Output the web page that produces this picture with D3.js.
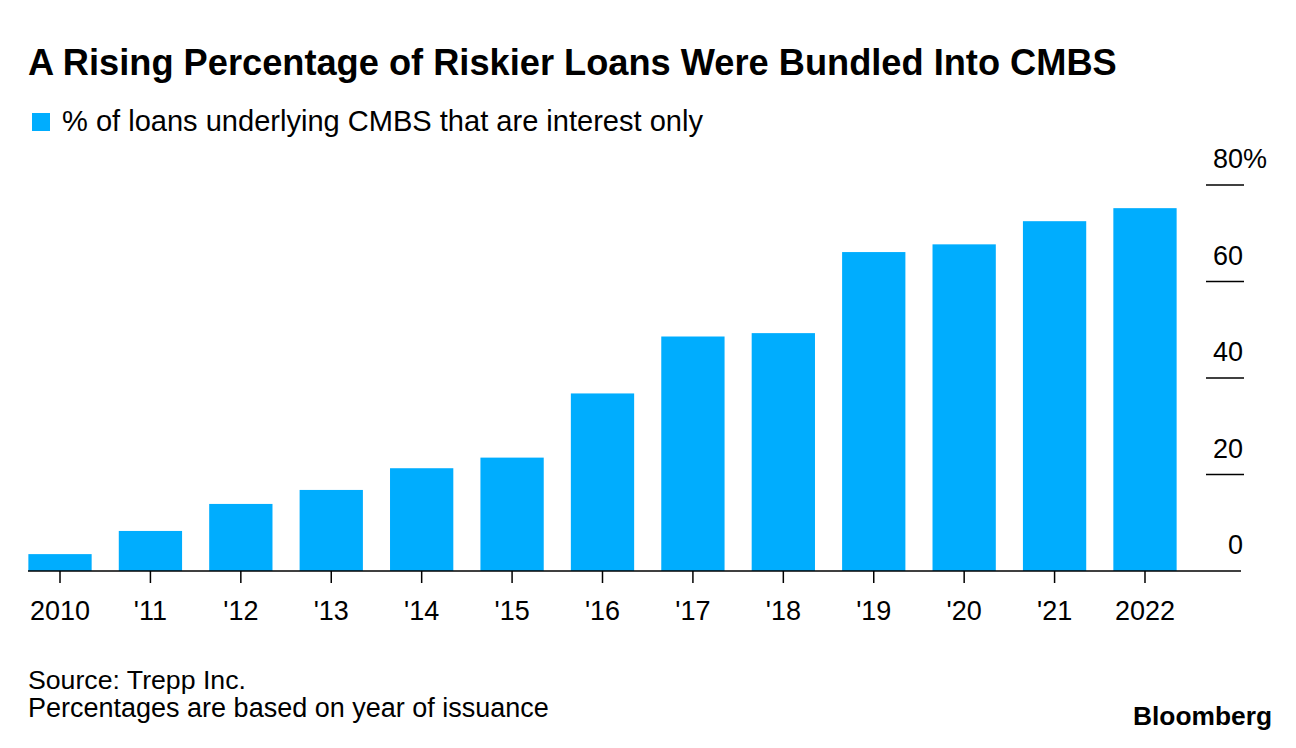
<!DOCTYPE html>
<html>
<head>
<meta charset="utf-8">
<script src="https://cdn.jsdelivr.net/npm/d3@7"></script>
<style>
  html, body { margin: 0; padding: 0; background: #fff; }
  svg { display: block; }
  text { font-family: "Liberation Sans", Arial, Helvetica, sans-serif; fill: #000; }
</style>
</head>
<body>
<svg id="chart" width="1296" height="748"></svg>
<script>
const categories = ["2010", "'11", "'12", "'13", "'14", "'15", "'16", "'17", "'18", "'19", "'20", "'21", "2022"];
const values = [3.5, 8.3, 13.9, 16.8, 21.3, 23.5, 36.8, 48.6, 49.3, 66.1, 67.7, 72.5, 75.2];
const yTicks = [0, 20, 40, 60, 80];
const seriesName = "% of loans underlying CMBS that are interest only";
const title = "A Rising Percentage of Riskier Loans Were Bundled Into CMBS";
const sourceLine = "Source: Trepp Inc.";
const noteLine = "Percentages are based on year of issuance";

const svg = d3.select("#chart");
const barColor = "#00adfe";

// fit text to a target width by adjusting font-size
function fit(sel, targetWidth) {
  const node = sel.node();
  const fs = parseFloat(sel.attr("font-size"));
  const w = node.getComputedTextLength();
  sel.attr("font-size", (fs * targetWidth / w).toFixed(2));
  return sel;
}

// Title
fit(svg.append("text").attr("x", 28).attr("y", 75)
  .attr("font-size", 32).attr("font-weight", "bold").text(title), 1089);

// Legend
svg.append("rect").attr("x", 32).attr("y", 113).attr("width", 18).attr("height", 18).attr("fill", barColor);
fit(svg.append("text").attr("x", 62).attr("y", 131).attr("font-size", 24).text(seriesName), 641);

// Scales
const x = d3.scaleBand().domain(categories).range([14.8, 1190.2]).paddingInner(0.3).paddingOuter(0.15);
const y = d3.scaleLinear().domain([0, 80]).range([571, 185]);

// Bars
svg.append("g").selectAll("rect").data(values).join("rect")
  .attr("x", (d, i) => x(categories[i]))
  .attr("width", x.bandwidth())
  .attr("y", d => y(d))
  .attr("height", d => y(0) - y(d))
  .attr("fill", barColor);

// Right y axis: short tick lines with labels above
const yAxis = svg.append("g");
yTicks.forEach(t => {
  if (t !== 0) {
    yAxis.append("line").attr("x1", 1206).attr("x2", 1244)
      .attr("y1", y(t)).attr("y2", y(t)).attr("stroke", "#000").attr("stroke-width", 1.5);
  }
  yAxis.append("text").attr("x", 1243).attr("y", y(t) - 17)
    .attr("font-size", 27).attr("text-anchor", "end").text(t);
  if (t === 80) {
    yAxis.append("text").attr("x", 1243).attr("y", y(t) - 17).attr("font-size", 27).text("%");
  }
});

// X axis (ticks + labels) via d3.axisBottom
const xAxisG = svg.append("g").attr("transform", `translate(0,${y(0)})`)
  .call(d3.axisBottom(x).tickSize(12).tickPadding(18).tickSizeOuter(0));
xAxisG.select(".domain").remove();
xAxisG.selectAll(".tick line").attr("stroke", "#000").attr("stroke-width", 1.5);
xAxisG.selectAll(".tick text").attr("font-size", 27)
  .attr("font-family", "'Liberation Sans', Arial, sans-serif").attr("fill", "#000");
svg.append("line").attr("x1", 28).attr("x2", 1241).attr("y1", y(0)).attr("y2", y(0))
  .attr("stroke", "#000").attr("stroke-width", 1.5);

// Footer
fit(svg.append("text").attr("x", 28).attr("y", 689).attr("font-size", 22).text(sourceLine), 218);
fit(svg.append("text").attr("x", 28).attr("y", 717).attr("font-size", 22).text(noteLine), 521);
fit(svg.append("text").attr("x", 1272).attr("y", 725).attr("font-size", 24)
  .attr("font-weight", "bold").attr("text-anchor", "end").text("Bloomberg"), 139);
</script>
</body>
</html>
